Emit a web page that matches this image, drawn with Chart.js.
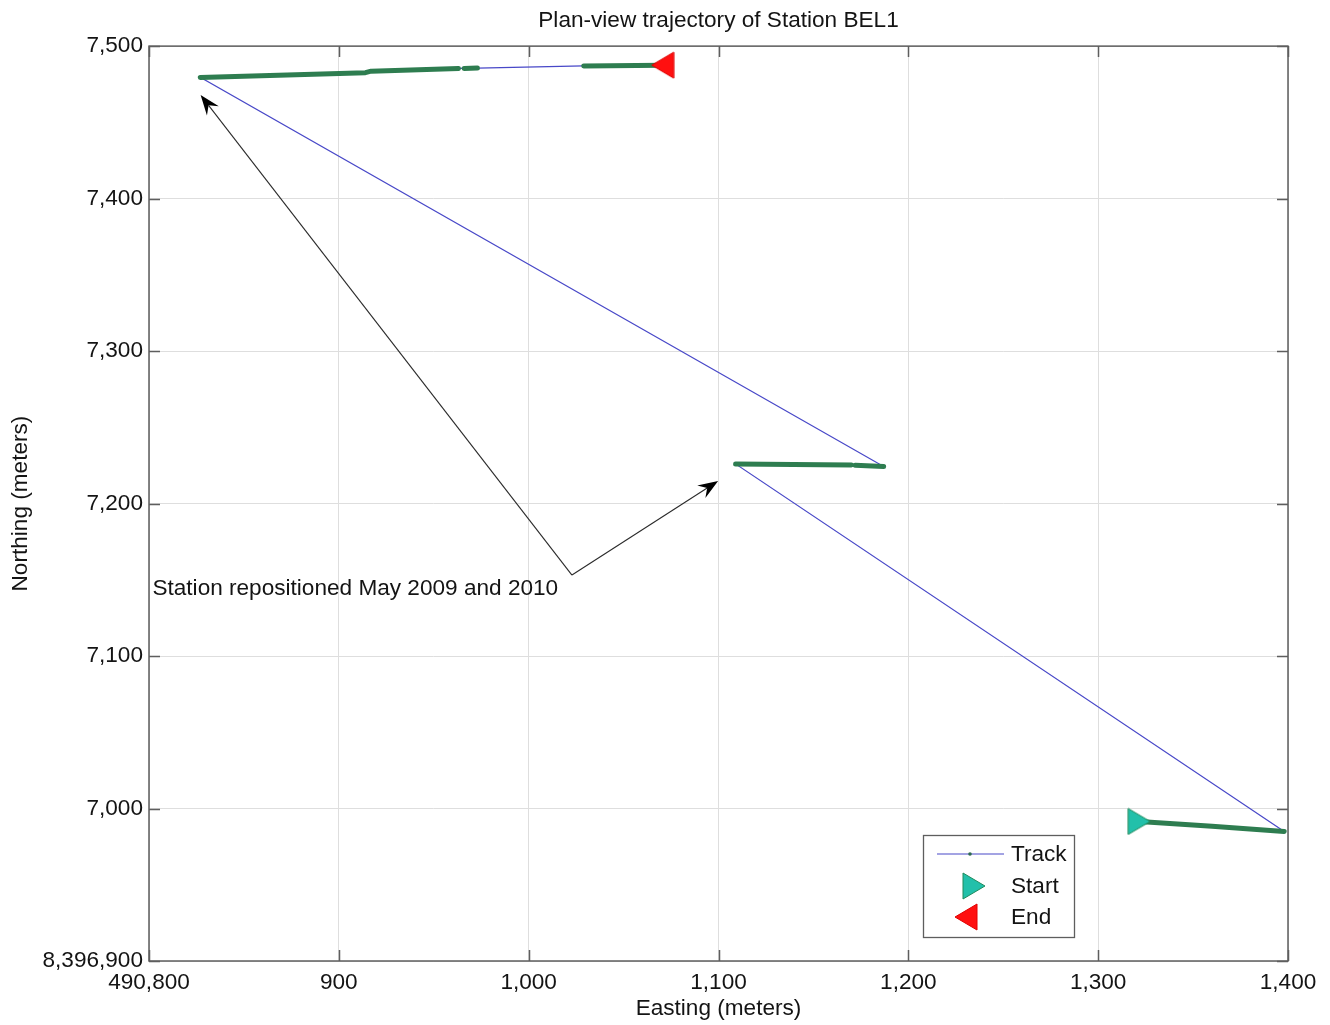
<!DOCTYPE html>
<html>
<head>
<meta charset="utf-8">
<title>Plan-view trajectory of Station BEL1</title>
<script src="https://cdn.jsdelivr.net/npm/chart.js@4/dist/chart.umd.min.js"></script>
<style>
  html, body { margin: 0; padding: 0; background: #ffffff; }
  #wrap { width: 1330px; height: 1025px; }
</style>
</head>
<body>
<div id="wrap"><canvas id="c" width="1330" height="1025"></canvas></div>
<script>
// ---- Axis ticks (metres, UTM) ----
const xTickValues = [490800, 490900, 491000, 491100, 491200, 491300, 491400];
const xTickLabels = ['490,800', '900', '1,000', '1,100', '1,200', '1,300', '1,400'];
const yTickValues = [8396900, 8397000, 8397100, 8397200, 8397300, 8397400, 8397500];
const yTickLabels = ['8,396,900', '7,000', '7,100', '7,200', '7,300', '7,400', '7,500'];

// ---- Full station track, in time order ----
const trackEasting  = [491321.6, 491398, 491109, 491170, 491187, 490827, 490914, 490917, 490963, 490973, 491029, 491070.6];
const trackNorthing = [8396991.5, 8396985, 8397226, 8397225.3, 8397224.3, 8397479.5, 8397482.6, 8397483.6, 8397485.4, 8397485.6, 8397487, 8397487.5];

// ---- Recorded GPS fixes (null = no data) ----
const fixEasting  = [491321.6, 491360, 491398, null, 491109, 491170, null, 491172, 491187, null, 490827, 490914, 490917, 490963, null, 490966, 490973, null, 491029, 491070.6];
const fixNorthing = [8396991.5, 8396988.3, 8396985, null, 8397226, 8397225.3, null, 8397225.2, 8397224.3, null, 8397479.5, 8397482.6, 8397483.6, 8397485.4, null, 8397485.4, 8397485.6, null, 8397487, 8397487.5];

// ---- Start / end positions ----
const startEasting = [491321.6];
const startNorthing = [8396991.5];
const endEasting = [491070.6];
const endNorthing = [8397487.5];

// ---- Annotation (repositioning arrows) ----
const noteText = 'Station repositioned May 2009 and 2010';
const noteAnchor = [490801.8, 8397143.9];
const arrowTail = [491022.8, 8397153.1];
const arrowHeads = [[490827.2, 8397467.9], [491099.8, 8397214.8]];

const FONT = "'Liberation Sans', Arial, Helvetica, sans-serif";
const FSIZE = 22.6;
const TEXT = '#141414';
const TRACK_BLUE = '#4848c8';
const FIX_GREEN = '#2e7d50';

function makeTriangle(dir, fill, stroke) {
  const cv = document.createElement('canvas');
  cv.width = 24; cv.height = 28;
  const g = cv.getContext('2d');
  g.beginPath();
  if (dir === 'right') {
    g.moveTo(1, 1); g.lineTo(23, 14); g.lineTo(1, 27);
  } else {
    g.moveTo(23, 1); g.lineTo(1, 14); g.lineTo(23, 27);
  }
  g.closePath();
  g.fillStyle = fill; g.fill();
  g.lineWidth = 1; g.strokeStyle = stroke; g.stroke();
  return cv;
}
const startMarker = makeTriangle('right', '#22c0aa', '#1f8a5c');
const endMarker = makeTriangle('left', '#ff1010', '#e00000');

const toXY = (xs, ys) => xs.map((x, i) => ({ x: x === null ? xs[i - 1] : x, y: ys[i] }));

// Box, inward ticks, annotation arrows and legend
const overlayPlugin = {
  id: 'overlay',
  afterDraw(chart) {
    const ctx = chart.ctx;
    const a = chart.chartArea;
    const xs = chart.scales.x, ys = chart.scales.y;
    ctx.save();

    // axes box
    ctx.strokeStyle = '#5e5e5e';
    ctx.lineWidth = 1.5;
    ctx.strokeRect(a.left, a.top, a.right - a.left, a.bottom - a.top);
    const TL = 11;
    ctx.beginPath();
    xTickValues.forEach(v => {
      const px = Math.round(xs.getPixelForValue(v)) + 0.5;
      ctx.moveTo(px, a.bottom); ctx.lineTo(px, a.bottom - TL);
      ctx.moveTo(px, a.top); ctx.lineTo(px, a.top + TL);
    });
    yTickValues.forEach(v => {
      const py = Math.round(ys.getPixelForValue(v)) + 0.5;
      ctx.moveTo(a.left, py); ctx.lineTo(a.left + TL, py);
      ctx.moveTo(a.right, py); ctx.lineTo(a.right - TL, py);
    });
    ctx.stroke();

    // annotation arrows
    const tx = xs.getPixelForValue(arrowTail[0]);
    const ty = ys.getPixelForValue(arrowTail[1]);
    arrowHeads.forEach(h => {
      const hx = xs.getPixelForValue(h[0]);
      const hy = ys.getPixelForValue(h[1]);
      const ang = Math.atan2(hy - ty, hx - tx);
      const L = 20, W = 7.5, notch = 13;
      ctx.strokeStyle = '#2a2a2a';
      ctx.lineWidth = 1.1;
      ctx.beginPath();
      ctx.moveTo(tx, ty);
      ctx.lineTo(hx - Math.cos(ang) * notch, hy - Math.sin(ang) * notch);
      ctx.stroke();
      const bx = hx - Math.cos(ang) * L, by = hy - Math.sin(ang) * L;
      const nx = -Math.sin(ang), ny = Math.cos(ang);
      ctx.fillStyle = '#000000';
      ctx.beginPath();
      ctx.moveTo(hx, hy);
      ctx.lineTo(bx + nx * W, by + ny * W);
      ctx.lineTo(hx - Math.cos(ang) * notch, hy - Math.sin(ang) * notch);
      ctx.lineTo(bx - nx * W, by - ny * W);
      ctx.closePath();
      ctx.fill();
    });
    ctx.fillStyle = TEXT;
    ctx.font = FSIZE + 'px ' + FONT;
    ctx.textAlign = 'left';
    ctx.textBaseline = 'middle';
    ctx.fillText(noteText, xs.getPixelForValue(noteAnchor[0]), ys.getPixelForValue(noteAnchor[1]));

    // legend box (lower right of the axes)
    const lw = 151, lh = 102;
    const lx = a.right - 365, ly = a.bottom - 24 - lh;
    ctx.fillStyle = '#ffffff';
    ctx.fillRect(lx, ly, lw, lh);
    ctx.strokeStyle = '#5e5e5e';
    ctx.lineWidth = 1.3;
    ctx.strokeRect(lx + 0.5, ly + 0.5, lw, lh);
    const rows = [ly + 19, ly + 51, ly + 82];
    const tds = chart.data.datasets;
    // Track
    ctx.strokeStyle = tds[0].borderColor;
    ctx.lineWidth = 1.2;
    ctx.beginPath();
    ctx.moveTo(lx + 14, rows[0]); ctx.lineTo(lx + 81, rows[0]);
    ctx.stroke();
    ctx.fillStyle = '#2e6a50';
    ctx.beginPath(); ctx.arc(lx + 47, rows[0], 1.8, 0, Math.PI * 2); ctx.fill();
    // Start / End markers
    ctx.drawImage(startMarker, lx + 51 - 12, rows[1] - 14);
    ctx.drawImage(endMarker, lx + 43 - 12, rows[2] - 14);
    ctx.fillStyle = TEXT;
    ctx.font = FSIZE + 'px ' + FONT;
    ctx.textBaseline = 'middle';
    [tds[0].label, tds[2].label, tds[3].label].forEach((t, i) => {
      ctx.fillText(t, lx + 88, rows[i] + 1);
    });
    ctx.restore();
  }
};

const tickFont = { family: FONT, size: FSIZE };

new Chart(document.getElementById('c'), {
  type: 'line',
  data: {
    datasets: [
      {
        label: 'Track',
        data: toXY(trackEasting, trackNorthing),
        borderColor: TRACK_BLUE,
        borderWidth: 1.2,
        pointRadius: 0,
        fill: false,
        tension: 0,
        order: 3
      },
      {
        label: 'GPS fixes',
        data: toXY(fixEasting, fixNorthing),
        borderColor: FIX_GREEN,
        borderWidth: 5,
        borderCapStyle: 'round',
        borderJoinStyle: 'round',
        pointRadius: 0,
        spanGaps: false,
        fill: false,
        tension: 0,
        order: 2
      },
      {
        label: 'Start',
        data: toXY(startEasting, startNorthing),
        showLine: false,
        pointStyle: startMarker,
        pointRadius: 12,
        order: 1
      },
      {
        label: 'End',
        data: toXY(endEasting, endNorthing),
        showLine: false,
        pointStyle: endMarker,
        pointRadius: 12,
        order: 1
      }
    ]
  },
  options: {
    responsive: false,
    animation: false,
    events: [],
    layout: { padding: { left: 0, right: 42, top: 0, bottom: 0 } },
    plugins: {
      legend: { display: false },
      tooltip: { enabled: false },
      title: {
        display: true,
        fullSize: false,
        text: 'Plan-view trajectory of Station BEL1',
        color: TEXT,
        font: { family: FONT, size: FSIZE, weight: 'normal' },
        padding: { top: 7, bottom: 12 }
      }
    },
    scales: {
      x: {
        type: 'linear',
        min: 490800,
        max: 491400,
        afterBuildTicks: s => { s.ticks = xTickValues.map(v => ({ value: v })); },
        afterFit: s => { s.height = 64; },
        grid: { color: '#dedede', lineWidth: 1, drawTicks: false },
        border: { display: false },
        ticks: {
          padding: 8,
          color: TEXT,
          font: tickFont,
          maxRotation: 0,
          autoSkip: false,
          callback: (v, i) => xTickLabels[i]
        },
        title: {
          display: true,
          text: 'Easting (meters)',
          color: TEXT,
          font: tickFont,
          padding: { top: 0, bottom: 3 }
        }
      },
      y: {
        type: 'linear',
        min: 8396900,
        max: 8397500,
        afterBuildTicks: s => { s.ticks = yTickValues.map(v => ({ value: v })); },
        afterFit: s => { s.width = 149; },
        grid: { color: '#dedede', lineWidth: 1, drawTicks: false },
        border: { display: false },
        ticks: {
          padding: 6,
          color: TEXT,
          font: tickFont,
          autoSkip: false,
          callback: (v, i) => yTickLabels[i]
        },
        title: {
          display: true,
          text: 'Northing (meters)',
          color: TEXT,
          font: tickFont,
          padding: { top: 7, bottom: 0 }
        }
      }
    }
  },
  plugins: [overlayPlugin]
});
</script>
</body>
</html>
